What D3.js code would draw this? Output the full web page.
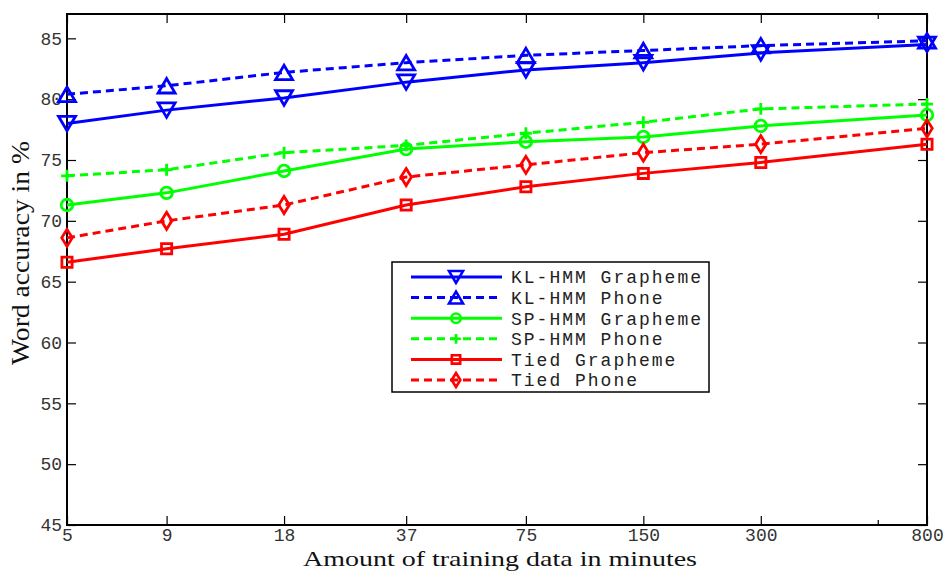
<!DOCTYPE html>
<html>
<head>
<meta charset="utf-8">
<script src="https://cdn.jsdelivr.net/npm/d3@7"></script>
<style>
  body { margin: 0; background: #fff; }
  svg { display: block; }
</style>
</head>
<body>
<div id="chart"></div>
<script>
// data
const minutes = [5, 9, 18, 37, 75, 150, 300, 800];
const minorTicks = [600];
const yTicks = [45, 50, 55, 60, 65, 70, 75, 80, 85];

const klGrapheme = [78.0, 79.1, 80.1, 81.4, 82.4, 83.0, 83.8, 84.5];
const klPhone    = [80.4, 81.1, 82.2, 83.0, 83.6, 84.0, 84.4, 84.8];
const spGrapheme = [71.3, 72.3, 74.1, 75.9, 76.5, 76.9, 77.8, 78.7];
const spPhone    = [73.7, 74.2, 75.6, 76.2, 77.2, 78.1, 79.2, 79.6];
const tiedGrapheme = [66.6, 67.7, 68.9, 71.3, 72.8, 73.9, 74.8, 76.3];
const tiedPhone    = [68.6, 70.0, 71.3, 73.6, 74.6, 75.6, 76.3, 77.6];

const seriesNames = ["KL-HMM Grapheme", "KL-HMM Phone", "SP-HMM Grapheme",
                     "SP-HMM Phone", "Tied Grapheme", "Tied Phone"];
const seriesValues = [klGrapheme, klPhone, spGrapheme, spPhone, tiedGrapheme, tiedPhone];

// look of each series
const styles = [
  {color: "#0000ff", dash: null,  marker: "tridown"},
  {color: "#0000ff", dash: "8,5", marker: "triup"},
  {color: "#00ff00", dash: null,  marker: "circle"},
  {color: "#00ff00", dash: "8,5", marker: "plus"},
  {color: "#ff0000", dash: null,  marker: "square"},
  {color: "#ff0000", dash: "8,5", marker: "diamond"}
];

const W = 947, H = 572;
const L = 67, R = 927, T = 14, B = 525;

const svg = d3.select("#chart").append("svg")
  .attr("width", W).attr("height", H);

const x = d3.scaleLog().domain([5, 800]).range([L, R]);
const y = d3.scaleLinear().domain([45, 87]).range([B, T]);

const tickFont = "'Liberation Mono', 'Courier New', monospace";

function styleAxis(g) {
  g.select(".domain").remove();
  g.selectAll(".tick line").attr("stroke", "#000").attr("stroke-width", 1.2);
  g.selectAll(".tick text").attr("fill", "#333")
    .style("font-family", tickFont).style("font-size", "18px");
}

// bottom / top
svg.append("g").attr("transform", `translate(0,${B})`)
  .call(d3.axisBottom(x).tickValues(minutes).tickFormat(d3.format("d"))
        .tickSizeInner(-9).tickSizeOuter(0).tickPadding(3))
  .call(styleAxis);
svg.append("g").attr("transform", `translate(0,${T})`)
  .call(d3.axisTop(x).tickValues(minutes).tickFormat("")
        .tickSizeInner(-9).tickSizeOuter(0))
  .call(styleAxis);
// minor ticks
svg.append("g").selectAll("line").data(minorTicks).join("line")
  .attr("x1", d => x(d)).attr("x2", d => x(d)).attr("y1", B).attr("y2", B - 5)
  .attr("stroke", "#000").attr("stroke-width", 1.2);
svg.append("g").selectAll("line").data(minorTicks).join("line")
  .attr("x1", d => x(d)).attr("x2", d => x(d)).attr("y1", T).attr("y2", T + 5)
  .attr("stroke", "#000").attr("stroke-width", 1.2);

// left / right
svg.append("g").attr("transform", `translate(${L},0)`)
  .call(d3.axisLeft(y).tickValues(yTicks).tickFormat(d3.format("d"))
        .tickSizeInner(-9).tickSizeOuter(0).tickPadding(5))
  .call(styleAxis);
svg.append("g").attr("transform", `translate(${R},0)`)
  .call(d3.axisRight(y).tickValues(yTicks).tickFormat("")
        .tickSizeInner(-9).tickSizeOuter(0))
  .call(styleAxis);

// frame
svg.append("rect").attr("x", L).attr("y", T).attr("width", R - L).attr("height", B - T)
  .attr("fill", "none").attr("stroke", "#000").attr("stroke-width", 2);

// markers
function markerPath(type, s) {
  const h = s / 2;
  switch (type) {
    case "tridown": return `M${-h},${-h * 0.85}L${h},${-h * 0.85}L0,${h * 0.85}Z`;
    case "triup":   return `M${-h},${h * 0.85}L${h},${h * 0.85}L0,${-h * 0.85}Z`;
    case "square":  return `M${-h * 0.6},${-h * 0.6}h${h * 1.2}v${h * 1.2}h${-h * 1.2}Z`;
    case "diamond": return `M0,${-h}L${h * 0.62},0L0,${h}L${-h * 0.62},0Z`;
    case "plus":    return `M${-h * 0.7},0H${h * 0.7}M0,${-h * 0.7}V${h * 0.7}`;
    default:        return d3.arc()({innerRadius: 0, outerRadius: h * 0.68, startAngle: 0, endAngle: 2 * Math.PI});
  }
}

const line = d3.line().x((d, i) => x(minutes[i])).y(d => y(d));

seriesValues.forEach((vals, k) => {
  const st = styles[k];
  const g = svg.append("g");
  g.append("path").datum(vals).attr("d", line)
    .attr("fill", "none").attr("stroke", st.color).attr("stroke-width", 3)
    .attr("stroke-dasharray", st.dash);
  g.selectAll("path.m").data(vals).join("path").attr("class", "m")
    .attr("transform", (d, i) => `translate(${x(minutes[i])},${y(d)})`)
    .attr("d", markerPath(st.marker, 17))
    .attr("fill", "none").attr("stroke", st.color).attr("stroke-width", 2.8);
});

// legend
const lg = svg.append("g").attr("transform", "translate(392,262)");
lg.append("rect").attr("width", 317).attr("height", 130)
  .attr("fill", "#fff").attr("stroke", "#000").attr("stroke-width", 1.5);
const rows = lg.selectAll("g.row").data(seriesNames).join("g").attr("class", "row")
  .attr("transform", (d, i) => `translate(0,${15 + i * 20.6})`);
rows.append("line").attr("x1", 19).attr("x2", 110).attr("y1", 0).attr("y2", 0)
  .attr("stroke", (d, i) => styles[i].color).attr("stroke-width", 3)
  .attr("stroke-dasharray", (d, i) => styles[i].dash);
rows.append("path").attr("transform", "translate(64,0)")
  .attr("d", (d, i) => markerPath(styles[i].marker, 14))
  .attr("fill", "none").attr("stroke", (d, i) => styles[i].color).attr("stroke-width", 2.6);
rows.append("text").attr("x", 119).attr("y", 0).attr("dy", "0.35em")
  .attr("fill", "#222").style("font-family", tickFont).style("font-size", "18px")
  .style("letter-spacing", "2px")
  .text(d => d);

// axis titles
svg.append("text").attr("x", (L + R) / 2 + 3).attr("y", 566)
  .attr("text-anchor", "middle")
  .attr("textLength", 394).attr("lengthAdjust", "spacingAndGlyphs")
  .style("font-family", "'Liberation Serif', 'DejaVu Serif', serif").style("font-size", "22px")
  .attr("fill", "#111")
  .text("Amount of training data in minutes");
svg.append("text").attr("transform", "translate(29,253) rotate(-90)")
  .attr("text-anchor", "middle")
  .attr("textLength", 224).attr("lengthAdjust", "spacingAndGlyphs")
  .style("font-family", "'Liberation Serif', 'DejaVu Serif', serif").style("font-size", "25px")
  .attr("fill", "#111")
  .text("Word accuracy in %");
</script>
</body>
</html>
